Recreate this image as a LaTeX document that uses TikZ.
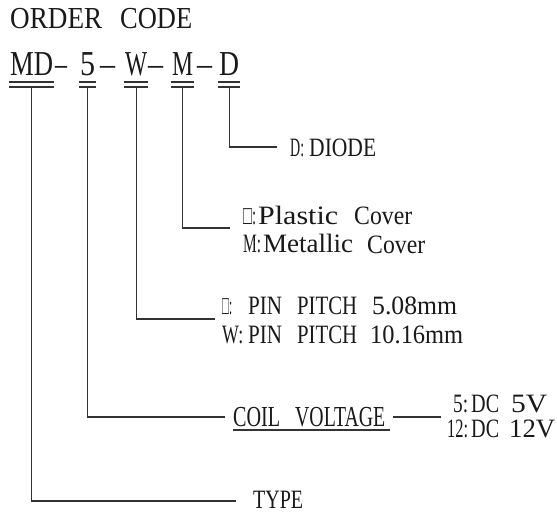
\documentclass[tikz,border=0pt]{standalone}
\usepackage{fontspec}
\setmainfont{Liberation Serif}
\usetikzlibrary{calc}
\newcommand\fw[2]{\resizebox{#1pt}{\height}{#2}}
\tikzset{
  txt/.style={anchor=base west, inner sep=0pt, text=black!90},
  lbl/.style={txt, font=\fontsize{26.5}{30}\selectfont},
  seg/.style={txt, font=\fontsize{35}{40}\selectfont},
  ln/.style={line width=1.3pt, draw=black!80},
}
\begin{document}
\begin{tikzpicture}[x=1pt,y=-1pt]
\useasboundingbox[fill=white] (0,0) rectangle (557,513);
% title
\node[txt, font=\fontsize{30.5}{34}\selectfont] (order) at (10,29) {\fw{92}{ORDER}\hspace{18pt}\fw{72}{CODE}};
% code segments
\node[seg] (hMD) at (10,76) {\fw{43}{MD}};
\node[seg] (d1) at (55,76) {\fw{12}{\textendash}};
\node[seg] (h5) at (80,76) {\fw{15}{5}};
\node[seg] (d2) at (100,76) {\fw{15}{\textendash}};
\node[seg] (hW) at (125,76) {\fw{22}{W}};
\node[seg] (d3) at (148,76) {\fw{15}{\textendash}};
\node[seg] (hM) at (172,76) {\fw{21}{M}};
\node[seg] (d4) at (197,76) {\fw{15}{\textendash}};
\node[seg] (hD) at (219,76) {\fw{20}{D}};
\foreach \n in {hMD,h5,hW,hM,hD}{
  \draw[ln] ([shift={(-1,6)}]\n.base west) -- ([shift={(1,6)}]\n.base east);
  \draw[ln] ([shift={(-1,11)}]\n.base west) -- ([shift={(1,11)}]\n.base east);
}
% labels
\node[lbl] (lD) at (290,157) {\fw{14}{D:}\hspace{5pt}\fw{67}{DIODE}};
\node[lbl] (lP) at (243,225) {\fw{13}{□:}\hspace{2pt}\fw{80}{Plastic}\hspace{16pt}\fw{58}{Cover}};
\node[lbl] (lMe) at (243,253) {\fw{18}{M:}\hspace{2pt}\fw{90}{Metallic}\hspace{14pt}\fw{58}{Cover}};
\node[lbl] (lP5) at (222,314) {\fw{10}{□:}\hspace{16pt}\fw{34}{PIN}\hspace{15pt}\fw{60}{PITCH}\hspace{15pt}\fw{85}{5.08mm}};
\node[lbl] (lP10) at (222,343) {\fw{21}{W:}\hspace{5pt}\fw{34}{PIN}\hspace{15pt}\fw{60}{PITCH}\hspace{13pt}\fw{93}{10.16mm}};
\node[txt, font=\fontsize{29}{33}\selectfont] (coil) at (233,426) {\fw{47}{COIL}\hspace{15pt}\fw{90}{VOLTAGE}};
\node[txt, font=\fontsize{26.5}{30}\selectfont] (v5) at (453,412) {\fw{15}{5:}\hspace{3pt}\fw{28}{DC}\hspace{12pt}\fw{36}{5V}};
\node[txt, font=\fontsize{26.5}{30}\selectfont] (v12) at (447,437) {\fw{21}{12:}\hspace{3pt}\fw{28}{DC}\hspace{10pt}\fw{46}{12V}};
\node[lbl] (type) at (253,508) {\fw{50}{TYPE}};
% connector ends
\coordinate (eD) at (277,147);
\coordinate (eM) at (230,228);
\coordinate (eW) at (215,319);
\coordinate (e5) at (225,417);
\coordinate (eMD) at (236,501);
\coordinate (cA) at (393,417);
\coordinate (cB) at (441,417);
% connectors
\draw[ln] ([yshift=-11pt]hD.base) |- (eD);
\draw[ln] ([yshift=-11pt]hM.base) |- (eM);
\draw[ln] ([yshift=-11pt]hW.base) |- (eW);
\draw[ln] ([yshift=-11pt]h5.base) |- (e5);
\draw[ln] ([yshift=-11pt]hMD.base) |- (eMD);
\draw[ln] ([shift={(0,4)}]coil.base west) -- ([shift={(5,4)}]coil.base east);
\draw[ln] (cA) -- (cB);
\end{tikzpicture}
\end{document}
